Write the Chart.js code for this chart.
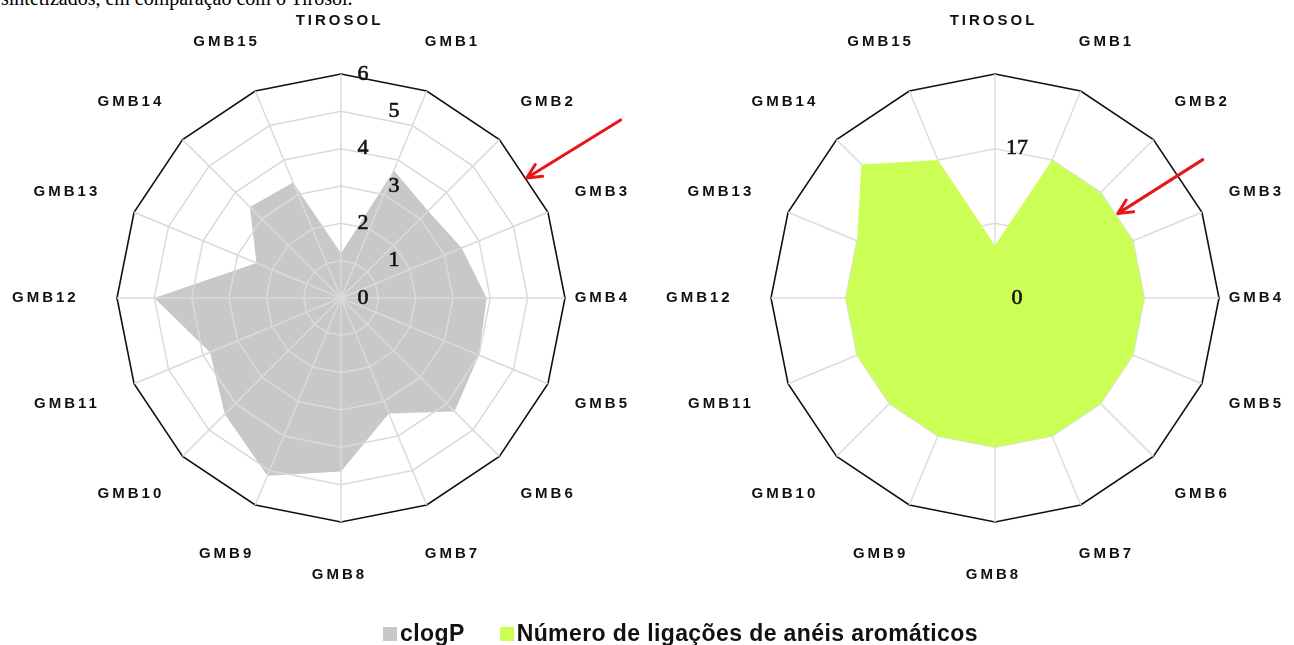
<!DOCTYPE html>
<html>
<head>
<meta charset="utf-8">
<script src="https://cdn.jsdelivr.net/npm/chart.js@4/dist/chart.umd.min.js"></script>
<style>
html,body{margin:0;padding:0;background:#fff;width:1294px;height:645px;overflow:hidden;position:relative;}
#caption{position:absolute;left:1px;top:-13px;font:20px "Liberation Serif";white-space:nowrap;color:#000;}
canvas{position:absolute;top:0;}
#c1{left:0;}
#c2{left:647px;}
#legend{position:absolute;top:620px;left:383px;font:bold 23px "Liberation Sans";color:#111;white-space:nowrap;letter-spacing:0.4px;line-height:26px;}
#legend span.sw{display:inline-block;width:14px;height:14px;margin-right:3px;vertical-align:0px;}
#legend span.gap{display:inline-block;width:35px;}
</style>
</head>
<body>
<div id="caption">sintetizados, em comparação com o Tirosol.</div>
<canvas id="c1" width="647" height="645"></canvas>
<canvas id="c2" width="647" height="645"></canvas>
<div id="legend"></div>
<script>
// ---- data ----
const categories = ['TIROSOL','GMB1','GMB2','GMB3','GMB4','GMB5','GMB6','GMB7','GMB8','GMB9','GMB10','GMB11','GMB12','GMB13','GMB14','GMB15'];
const clogP = [1.2, 3.7, 3.3, 3.5, 3.9, 4.0, 4.3, 3.35, 4.65, 5.15, 4.4, 3.8, 5.0, 2.45, 3.45, 3.35];
const aromaticBonds = [6, 17, 17, 17, 17, 17, 17, 17, 17, 17, 17, 17, 17, 17, 21.5, 17];
const leftTickValues = [0, 1, 2, 3, 4, 5, 6];
const leftTickLabels = ['0', '1', '2', '3', '4', '5', '6'];
const rightTickValues = [0, 8.5, 17, 25.5];
const rightTickLabels = ['0', '', '17', ''];
const seriesNames = ['clogP', 'Número de ligações de anéis aromáticos'];
const seriesColors = ['#c8c8c8', '#ccff55'];

// legend (HTML text)
const lg = document.getElementById('legend');
seriesNames.forEach((n, i) => {
  if (i) { const g = document.createElement('span'); g.className = 'gap'; lg.appendChild(g); }
  const sw = document.createElement('span'); sw.className = 'sw'; sw.style.background = seriesColors[i];
  lg.appendChild(sw);
  lg.appendChild(document.createTextNode(n));
});

const decor = {
  id: 'decor',
  afterDraw(chart, args, o) {
    const s = chart.scales.r;
    const ctx = chart.ctx;
    const R = s.drawingArea;
    ctx.save();
    // category labels (kept inside the plot area horizontally)
    ctx.font = 'bold 15px "Liberation Sans"';
    ctx.letterSpacing = '3px';
    ctx.fillStyle = '#111';
    ctx.textAlign = 'left';
    ctx.textBaseline = 'middle';
    categories.forEach((c, i) => {
      const p = s.getPointPosition(i, 1);
      const dx = p.x - s.xCenter, dy = p.y - s.yCenter;
      const w = ctx.measureText(c).width - 3;
      let x = s.xCenter + dx * (R + o.gapX) + o.labelShift - w / 2;
      x = Math.max(x, s.xCenter - o.clampL);
      x = Math.min(x, s.xCenter + o.clampR - w);
      ctx.fillText(c, x, s.yCenter + dy * (R + o.gapY));
    });
    ctx.letterSpacing = '0px';
    // tick labels
    ctx.textAlign = 'center';
    ctx.font = '22px "Liberation Serif"';
    ctx.fillStyle = '#111';
    ctx.strokeStyle = '#111';
    ctx.lineWidth = 0.6;
    o.tickValues.forEach((v, k) => {
      const lbl = o.tickLabels[k];
      if (!lbl) return;
      const d = s.getDistanceFromCenterForValue(v);
      const x = s.xCenter + o.tickDx + (k % 2 ? o.tickStagger : 0), y = s.yCenter - d;
      ctx.fillText(lbl, x, y);
      ctx.strokeText(lbl, x, y);
    });
    // red arrow annotation
    const a = o.arrow;
    const p1 = s.getPointPositionForValue(a.from, a.value);
    const p2 = s.getPointPositionForValue(a.to, a.value);
    const tip = {x: (p1.x + p2.x) / 2 + a.ox, y: (p1.y + p2.y) / 2 + a.oy};
    const tail = {x: tip.x + a.dx, y: tip.y + a.dy};
    const ang = Math.atan2(tip.y - tail.y, tip.x - tail.x);
    ctx.strokeStyle = '#e8161c';
    ctx.lineWidth = 3;
    ctx.lineCap = 'round';
    ctx.lineJoin = 'round';
    ctx.beginPath();
    ctx.moveTo(tail.x, tail.y);
    ctx.lineTo(tip.x, tip.y);
    const h = 16, hw = 0.45;
    ctx.moveTo(tip.x - h * Math.cos(ang - hw), tip.y - h * Math.sin(ang - hw));
    ctx.lineTo(tip.x, tip.y);
    ctx.lineTo(tip.x - h * Math.cos(ang + hw), tip.y - h * Math.sin(ang + hw));
    ctx.stroke();
    ctx.restore();
  }
};

function makeChart(id, values, name, fill, max, step, pad, gridColor, gridZ, o) {
  return new Chart(document.getElementById(id), {
    type: 'radar',
    data: {
      labels: categories,
      datasets: [{
        label: name,
        data: values,
        backgroundColor: fill,
        borderWidth: 0,
        fill: true,
        pointRadius: 0,
        pointHoverRadius: 0
      }]
    },
    options: {
      responsive: false,
      animation: false,
      layout: {padding: pad},
      plugins: {legend: {display: false}, tooltip: {enabled: false}, decor: o},
      scales: {
        r: {
          min: 0,
          max: max,
          ticks: {display: false, stepSize: step},
          pointLabels: {display: false},
          grid: {
            z: gridZ,
            color: c => (c.tick && c.tick.value >= max - 1e-6) ? '#111' : gridColor,
            lineWidth: c => (c.tick && c.tick.value >= max - 1e-6) ? 1.6 : 1.5
          },
          angleLines: {display: true, color: gridColor, lineWidth: 1.5}
        }
      }
    },
    plugins: [decor]
  });
}

makeChart('c1', clogP, seriesNames[0], seriesColors[0], 6, 1,
  {left: 117, right: 82, top: 74, bottom: 123}, '#dadada', 1,
  {gapX: 71, gapY: 53, labelShift: -3, clampL: 329, clampR: 286,
   tickValues: leftTickValues, tickLabels: leftTickLabels, tickDx: 22, tickStagger: 31,
   arrow: {from: 2, to: 3, value: 6, ox: 3, oy: 2, dx: 94, dy: -58}});

makeChart('c2', aromaticBonds, seriesNames[1], seriesColors[1], 25.5, 8.5,
  {left: 124, right: 75, top: 74, bottom: 123}, '#dcdce4', -1,
  {gapX: 71, gapY: 53, labelShift: -3, clampL: 329, clampR: 286,
   tickValues: rightTickValues, tickLabels: rightTickLabels, tickDx: 22, tickStagger: 0,
   arrow: {from: 2, to: 3, value: 17, ox: 1, oy: -3, dx: 85, dy: -54}});
</script>
</body>
</html>
